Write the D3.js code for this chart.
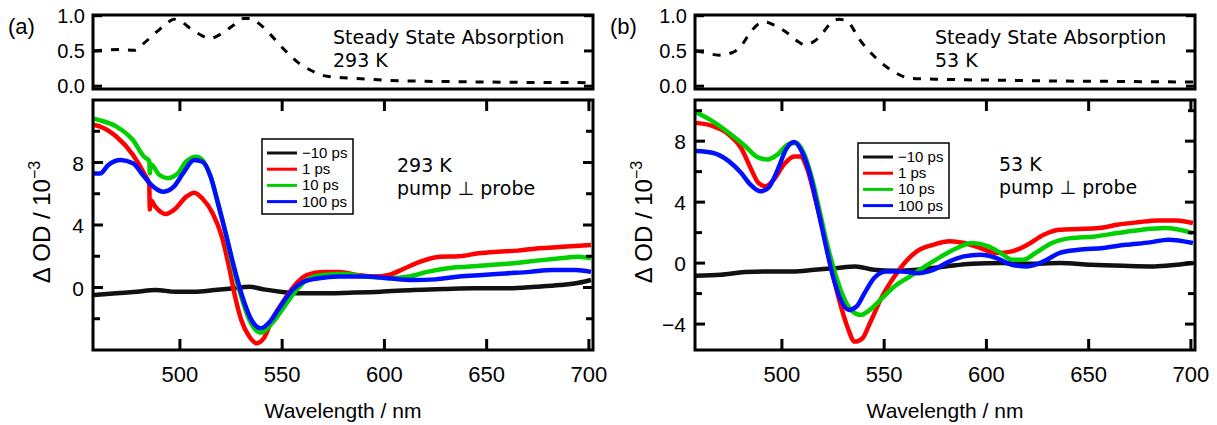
<!DOCTYPE html>
<html><head>
<meta charset="utf-8">
<script src="https://d3js.org/d3.v7.min.js"></script>
<style>
  body { margin: 0; background: #fff; }
  svg text { font-family: "Liberation Sans", Arial, sans-serif; fill: #000; }
  .frame { fill: none; stroke: #000; stroke-width: 3; }
  .tick { stroke: #000; stroke-width: 3; }
  .note { font-family: "DejaVu Sans", "Noto Sans", sans-serif; }
</style>
</head>
<body>
<svg id="chart" width="1217" height="425"></svg>
<script>
// ---- data ----
// wavelength ticks
const xTicks = [500, 550, 600, 650, 700];
const delays = ["\u221210 ps", "1 ps", "10 ps", "100 ps"];
const colors = ["#111111", "#ff0000", "#00d000", "#0010ff"];

// steady state absorption (normalised), [nm, abs]
const absA = [[458, 0.50], [462, 0.51], [471, 0.52], [478, 0.51], [482, 0.60], [489, 0.78], [494, 0.90], [497, 0.95],
  [500, 0.93], [505, 0.82], [510, 0.73], [515, 0.68], [520, 0.74], [526, 0.86], [531, 0.96], [534, 0.96],
  [539, 0.88], [544, 0.74], [552, 0.49], [558, 0.33], [563, 0.24], [572, 0.14], [580, 0.12], [591, 0.10],
  [600, 0.085], [620, 0.07], [640, 0.062], [660, 0.056], [680, 0.052], [701, 0.05]];
const absB = [[458, 0.50], [462, 0.48], [469, 0.44], [476, 0.48], [480, 0.57], [485, 0.78], [489, 0.89], [492, 0.91],
  [496, 0.87], [502, 0.77], [507, 0.65], [511, 0.59], [516, 0.64], [520, 0.76], [524, 0.90], [528, 0.95],
  [532, 0.92], [538, 0.66], [546, 0.40], [555, 0.20], [563, 0.11], [575, 0.10], [590, 0.09], [604, 0.086],
  [630, 0.075], [660, 0.068], [680, 0.063], [701, 0.06]];

// transient absorption, panel (a) 293 K, [nm, dOD x 1e3]
const a_m10 = [[458, -0.48], [469, -0.37], [479, -0.27], [488, -0.16], [498, -0.27], [507, -0.27], [517, -0.16],
  [526, -0.05], [534, 0.05], [541, -0.12], [549, -0.27], [559, -0.37], [570, -0.37], [583, -0.33],
  [598, -0.27], [614, -0.16], [629, -0.1], [644, -0.05], [659, -0.05], [674, 0.05], [686, 0.16],
  [695, 0.3], [701, 0.48]];
const a_1 = [[458, 10.4], [461, 10.3], [469, 9.65], [477, 8.5], [482.5, 7.3], [485.0, 6.6], [485.3, 5.0],
  [485.6, 5.6], [488, 5.17], [493, 4.7], [498, 5.07], [503, 5.8], [507, 6.07], [511, 5.7], [516, 4.75],
  [520.5, 3.25], [524, 1.33], [527, -0.59], [530, -2.08], [534, -3.15], [537.6, -3.57], [541, -3.25],
  [545, -2.08], [551, -0.8], [557, 0.27], [562, 0.8], [570, 1.0], [578, 1.0], [587, 0.8], [595, 0.7],
  [602, 0.8], [610, 1.23], [617.5, 1.65], [627, 1.97], [636.5, 2.0], [646, 2.19], [655.5, 2.29],
  [665, 2.36], [674.5, 2.5], [684, 2.57], [693.5, 2.66], [701, 2.72]];
const a_10 = [[458, 10.8], [461, 10.7], [469, 10.3], [477, 9.44], [482.5, 8.37], [485.0, 8.1], [485.3, 7.3],
  [485.6, 7.9], [490, 7.2], [494, 7.0], [499, 7.3], [503, 8.05], [508, 8.37], [511, 8.16], [515, 7.1],
  [518.6, 5.4], [522.4, 3.47], [526, 1.33], [530, -0.59], [534, -2.08], [539.5, -2.9], [545, -2.29],
  [551, -1.23], [557, -0.16], [562, 0.48], [570, 0.8], [579.5, 0.86], [591, 0.7], [602, 0.59],
  [612, 0.7], [621, 1.0], [631, 1.23], [640, 1.33], [652, 1.44], [663, 1.55], [674.5, 1.72],
  [686, 1.87], [695, 1.97], [701, 1.87]];
const a_100 = [[458, 7.3], [461, 7.3], [465, 7.84], [471, 8.16], [477, 7.95], [482.5, 7.1], [487, 6.45],
  [492, 6.13], [497, 6.45], [501.5, 7.3], [507, 8.16], [511, 8.05], [515, 7.1], [518.6, 5.4],
  [522.4, 3.47], [526, 1.55], [530, -0.37], [535, -2.08], [539.5, -2.61], [544, -2.19], [549, -1.23],
  [555, -0.16], [560.5, 0.37], [568, 0.59], [577.6, 0.7], [591, 0.7], [602, 0.59], [614, 0.48],
  [625, 0.52], [636.5, 0.7], [648, 0.8], [659, 0.9], [671, 1.0], [682, 1.12], [693.5, 1.12], [701, 1.0]];

// panel (b) 53 K
const b_m10 = [[458, -0.83], [470, -0.77], [482, -0.59], [493, -0.55], [505, -0.55], [516, -0.44], [526, -0.33],
  [536, -0.22], [545, -0.44], [555, -0.5], [566, -0.44], [580, -0.22], [593, -0.04], [607, 0],
  [620, -0.04], [636, 0], [651, -0.11], [667, -0.18], [682, -0.22], [693, -0.11], [701, 0]];
const b_1 = [[458, 9.2], [466, 9.0], [474, 8.44], [480, 7.57], [485, 6.14], [488.5, 5.26], [492, 5.04],
  [496, 5.48], [501, 6.47], [506, 7.0], [509, 7.0], [512.5, 6.14], [516, 4.39], [520, 2.19], [524, -0.22],
  [528, -2.41], [532, -4.17], [535.6, -5.15], [539.4, -4.93], [543, -3.95], [549, -2.19], [555, -0.88],
  [560.6, 0.11], [566, 0.77], [574, 1.2], [582, 1.43], [589, 1.32], [597, 0.99], [605, 0.66],
  [612.5, 0.77], [620, 1.2], [628, 1.86], [635.6, 2.19], [645, 2.24], [655, 2.3], [664, 2.52],
  [674, 2.68], [684, 2.8], [693, 2.8], [701, 2.63]];
const b_10 = [[458, 9.9], [466, 9.32], [474, 8.55], [482, 7.68], [487.5, 7.0], [493, 6.8], [498, 7.13],
  [503, 7.79], [507, 7.9], [510.6, 7.24], [514.4, 5.7], [518.3, 3.5], [522, 1.32], [526, -0.66],
  [530, -2.19], [533.7, -3.07], [538.5, -3.4], [543, -3.07], [549, -2.3], [555, -1.54], [562.5, -0.88],
  [570, -0.22], [578, 0.44], [585.6, 0.99], [593, 1.32], [601, 1.1], [607, 0.66], [612.5, 0.22],
  [618, 0.22], [624, 0.66], [632, 1.32], [641, 1.64], [653, 1.75], [664, 1.97], [676, 2.19],
  [687.5, 2.3], [701, 1.97]];
const b_100 = [[458, 7.35], [466, 7.24], [474, 6.69], [480, 5.92], [484.6, 5.15], [489.4, 4.71], [493.3, 4.93],
  [498, 6.14], [502, 7.46], [506, 7.94], [509.6, 7.35], [513.5, 5.92], [517.3, 3.73], [521.2, 1.32],
  [525, -0.88], [528.8, -2.41], [532.7, -3.07], [536.5, -2.85], [540.4, -1.97], [545, -0.99],
  [551, -0.55], [559, -0.55], [566, -0.66], [574, -0.44], [582, 0.11], [589, 0.44], [597, 0.55],
  [605, 0.33], [612.5, -0.11], [620, -0.22], [628, 0.11], [635.6, 0.66], [645, 0.88], [657, 0.99],
  [668, 1.2], [680, 1.36], [689, 1.54], [701, 1.32]];

const panels = [
  { tag: "(a)", left: 93, temp: "293 K", abs: absA, series: [a_m10, a_1, a_10, a_100],
    yDomain: [-4, 12], yMajor: [8, 4, 0], yMinor: [10, 6, 2, -2],
    legendX: 262, legendY: 139, noteX: 397, noteY: 172 },
  { tag: "(b)", left: 695, temp: "53 K", abs: absB, series: [b_m10, b_1, b_10, b_100],
    yDomain: [-5.7, 10.7], yMajor: [8, 4, 0, -4], yMinor: [10, 6, 2, -2],
    legendX: 858, legendY: 143, noteX: 999, noteY: 171 }
];

let svg = d3.select("#chart");
let boxW = 500;
let topY0 = 15, topY1 = 89;   // small absorption panel
let mainY0 = 100, mainY1 = 350; // transient panel

panels.forEach(p => {
  let g = svg.append("g");
  let x = d3.scaleLinear().domain([457.5, 702]).range([p.left, p.left + boxW]);

  // ---------- steady state absorption ----------
  let yTop = d3.scaleLinear().domain([-0.04, 1.01]).range([topY1, topY0]);
  let absLine = d3.line().x(d => x(d[0])).y(d => yTop(d[1])).curve(d3.curveMonotoneX);
  g.append("path").datum(p.abs).attr("d", absLine)
    .attr("fill", "none").attr("stroke", "#000").attr("stroke-width", 3)
    .attr("stroke-dasharray", "8,9");

  [1.0, 0.5, 0.0].forEach(v => {
    g.append("line").attr("class", "tick")
      .attr("x1", p.left).attr("x2", p.left + 9).attr("y1", yTop(v)).attr("y2", yTop(v));
    g.append("line").attr("class", "tick")
      .attr("x1", p.left + boxW).attr("x2", p.left + boxW - 9).attr("y1", yTop(v)).attr("y2", yTop(v));
    g.append("text").attr("x", p.left - 8).attr("y", yTop(v) + 7)
      .attr("text-anchor", "end").style("font-size", "20px").text(v.toFixed(1));
  });
  g.append("rect").attr("class", "frame")
    .attr("x", p.left).attr("y", topY0).attr("width", boxW).attr("height", topY1 - topY0);

  g.append("text").attr("class", "note").attr("x", p.left + 240).attr("y", 44)
    .style("font-size", "19px").text("Steady State Absorption");
  g.append("text").attr("class", "note").attr("x", p.left + 240).attr("y", 67)
    .style("font-size", "19px").text(p.temp);

  g.append("text").attr("x", p.left - 85).attr("y", 34).style("font-size", "22px").text(p.tag);

  // ---------- transient spectra ----------
  let y = d3.scaleLinear().domain(p.yDomain).range([mainY1, mainY0]);
  let clipId = "clip" + p.left;
  svg.append("clipPath").attr("id", clipId).append("rect")
    .attr("x", p.left).attr("y", mainY0).attr("width", boxW).attr("height", mainY1 - mainY0);

  let line = d3.line().x(d => x(d[0])).y(d => y(d[1])).curve(d3.curveMonotoneX);
  p.series.forEach((s, i) => {
    g.append("path").datum(s).attr("d", line).attr("clip-path", "url(#" + clipId + ")")
      .attr("fill", "none").attr("stroke", colors[i]).attr("stroke-width", 4.5)
      .attr("stroke-linejoin", "round");
  });

  // y ticks, both sides
  p.yMajor.concat(p.yMinor).forEach(v => {
    let len = p.yMajor.includes(v) ? 10 : 7;
    g.append("line").attr("class", "tick")
      .attr("x1", p.left).attr("x2", p.left + len).attr("y1", y(v)).attr("y2", y(v));
    g.append("line").attr("class", "tick")
      .attr("x1", p.left + boxW).attr("x2", p.left + boxW - len).attr("y1", y(v)).attr("y2", y(v));
  });
  p.yMajor.forEach(v => {
    g.append("text").attr("x", p.left - 9).attr("y", y(v) + 8)
      .attr("text-anchor", "end").style("font-size", "21px")
      .text(v < 0 ? "\u2212" + Math.abs(v) : v);
  });

  // x ticks, top and bottom
  xTicks.forEach(v => {
    g.append("line").attr("class", "tick")
      .attr("x1", x(v)).attr("x2", x(v)).attr("y1", mainY1).attr("y2", mainY1 - 11);
    g.append("line").attr("class", "tick")
      .attr("x1", x(v)).attr("x2", x(v)).attr("y1", mainY0).attr("y2", mainY0 + 11);
    g.append("text").attr("x", x(v)).attr("y", 382)
      .attr("text-anchor", "middle").style("font-size", "22px").text(v);
  });
  g.append("rect").attr("class", "frame")
    .attr("x", p.left).attr("y", mainY0).attr("width", boxW).attr("height", mainY1 - mainY0);

  g.append("text").attr("x", p.left + 250).attr("y", 418)
    .attr("text-anchor", "middle").style("font-size", "21px").text("Wavelength / nm");

  let yl = g.append("text").attr("transform", "translate(" + (p.left - 43) + ",222) rotate(-90)")
    .attr("text-anchor", "middle").style("font-size", "24px");
  yl.append("tspan").text("\u0394 OD  /  10");
  yl.append("tspan").attr("dy", -10).style("font-size", "16px").text("\u22123");

  // legend
  let lg = g.append("g").attr("transform", "translate(" + p.legendX + "," + p.legendY + ")");
  lg.append("rect").attr("width", 91).attr("height", 75)
    .attr("fill", "#fff").attr("stroke", "#000").attr("stroke-width", 1.5);
  delays.forEach((d, i) => {
    let ly = 14 + i * 16.2;
    lg.append("line").attr("x1", 5).attr("x2", 35).attr("y1", ly).attr("y2", ly)
      .attr("stroke", colors[i]).attr("stroke-width", 3);
    lg.append("text").attr("x", 40).attr("y", ly + 5).style("font-size", "15px").text(d);
  });

  g.append("text").attr("class", "note").attr("x", p.noteX).attr("y", p.noteY)
    .style("font-size", "19px").text(p.temp);
  g.append("text").attr("class", "note").attr("x", p.noteX).attr("y", p.noteY + 23)
    .style("font-size", "19px").text("pump \u22a5 probe");
});
</script>
</body>
</html>
